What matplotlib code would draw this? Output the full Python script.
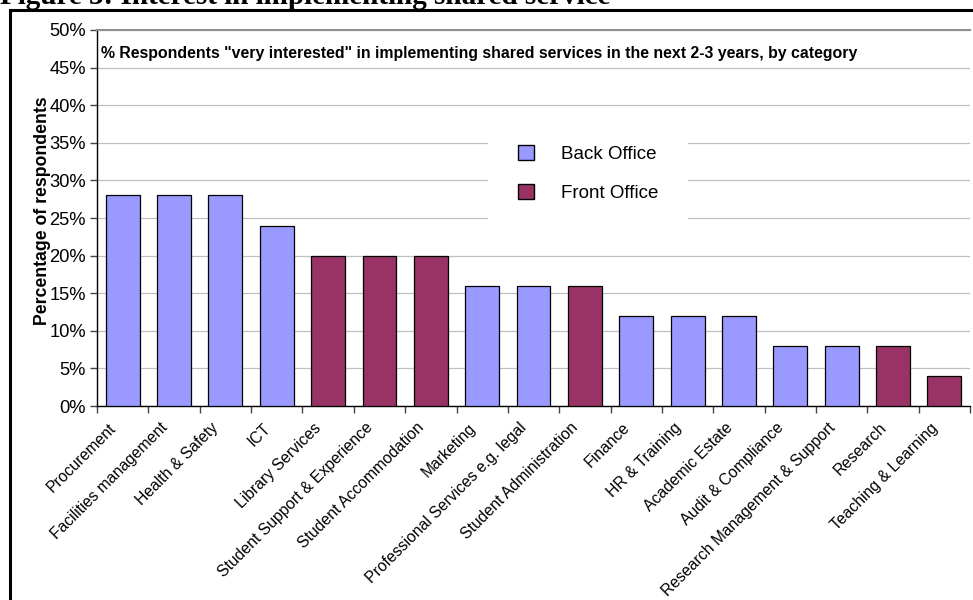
import matplotlib.pyplot as plt
from matplotlib.patches import Rectangle, Patch
from matplotlib.ticker import FuncFormatter, MultipleLocator
import numpy as np

plt.rcParams['font.family'] = ['Liberation Sans', 'DejaVu Sans']

categories = ['Procurement', 'Facilities management', 'Health & Safety', 'ICT',
              'Library Services', 'Student Support & Experience', 'Student Accommodation',
              'Marketing', 'Professional Services e.g. legal', 'Student Administration',
              'Finance', 'HR & Training', 'Academic Estate', 'Audit & Compliance',
              'Research Management & Support', 'Research', 'Teaching & Learning']
values = [28, 28, 28, 24, 20, 20, 20, 16, 16, 16, 12, 12, 12, 8, 8, 8, 4]
office = ['Back', 'Back', 'Back', 'Back', 'Front', 'Front', 'Front', 'Back', 'Back',
          'Front', 'Back', 'Back', 'Back', 'Back', 'Back', 'Front', 'Front']

colours = {'Back': '#9999FF', 'Front': '#993366'}

fig = plt.figure(figsize=(9.73, 6.0), dpi=100)
ax = fig.add_axes([0.0997, 0.3233, 0.8973, 0.6267])

x = np.arange(len(categories))
ax.bar(x, values, width=0.66, color=[colours[o] for o in office],
       edgecolor='black', linewidth=0.9, zorder=3)

ax.set_xlim(-0.5, len(categories) - 0.5)
ax.set_ylim(0, 50)
ax.yaxis.set_major_locator(MultipleLocator(5))
ax.yaxis.set_major_formatter(FuncFormatter(lambda v, p: f'{v:.0f}%'))
ax.yaxis.grid(True, color='#c0c0c0', linewidth=0.9, zorder=0)

# ticks sit between the bars, slanted category names hang under each bar
ax.set_xticks(np.arange(-0.5, len(categories)))
ax.set_xticklabels([])
for xi, name in zip(x, categories):
    ax.annotate(name, xy=(xi, 0), xycoords=('data', 'axes fraction'),
                xytext=(-6.5, -14), textcoords='offset points',
                rotation=45, rotation_mode='anchor', ha='right', va='center',
                fontsize=11.3)
ax.tick_params(axis='x', length=5, color='#444444', width=1)
ax.tick_params(axis='y', length=5, width=1, labelsize=13.2, color='#444444', pad=3)

ax.spines['right'].set_visible(False)
ax.spines['top'].set_color('#909090')
ax.spines['top'].set_linewidth(1.5)
ax.spines['left'].set_linewidth(1)
ax.spines['bottom'].set_linewidth(1)

ax.set_ylabel('Percentage of respondents', fontsize=12.7, fontweight='bold')
ax.yaxis.set_label_coords(-0.0525, 0.52)

ax.text(0.004, 0.937, '% Respondents "very interested" in implementing shared services in the next 2-3 years, by category',
        transform=ax.transAxes, fontsize=11.4, fontweight='bold', va='center', ha='left')

handles = [Patch(facecolor=colours['Back'], edgecolor='black', label='Back Office'),
           Patch(facecolor=colours['Front'], edgecolor='black', label='Front Office')]
leg = ax.legend(handles=handles, loc='upper left', bbox_to_anchor=(0.448, 0.774),
                frameon=True, fontsize=13.5, handlelength=0.85, handleheight=0.85,
                handletextpad=1.44, labelspacing=1.1, borderpad=1.6, borderaxespad=0)
leg.get_frame().set_edgecolor('none')
leg.get_frame().set_facecolor('white')
leg.get_frame().set_alpha(1)
leg.set_zorder(5)

# outer frame and figure caption
fig.patches.append(Rectangle((0.0103, -0.05), 1.2, 1.033, transform=fig.transFigure,
                             fill=False, edgecolor='black', linewidth=2.2))
fig.text(0.0, 0.9933, 'Figure 3: Interest in implementing shared service', family='Liberation Serif',
         fontweight='bold', fontsize=21, va='baseline', ha='left')

fig.savefig('out.png', dpi=100)
